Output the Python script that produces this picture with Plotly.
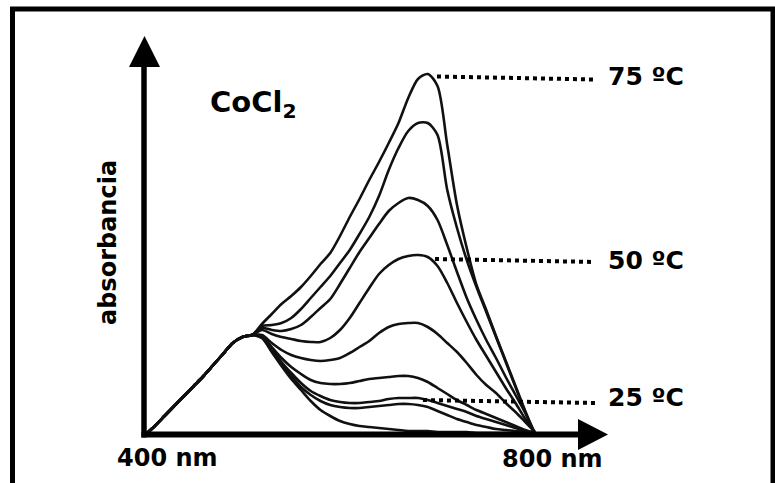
import plotly.graph_objects as go

W, H = 775, 483

# Wavelength grid of the spectra (nm)
wavelength_nm = [400, 410, 420, 430, 440, 450, 460, 470, 480, 490, 500, 510,
                 520, 530, 540, 550, 560, 570, 580, 590, 600, 610, 620, 630,
                 640, 650, 660, 670, 680, 690, 700, 710, 720, 730, 740, 750,
                 760, 770, 780, 790, 800]

# Rising flank up to the ~510 nm band, common to every temperature (400-510 nm)
abs_shared = [0.00, 0.09, 0.19, 0.29, 0.39, 0.49, 0.59, 0.70, 0.81, 0.92, 0.98, 1.00]

# Remaining part of each spectrum (520-800 nm), hottest first
abs_75 = [1.11, 1.21, 1.31, 1.39, 1.48, 1.59, 1.71, 1.82, 1.99, 2.18, 2.36, 2.55, 2.73, 2.92, 3.12,
          3.37, 3.56, 3.61, 3.49, 2.90, 2.30, 1.87, 1.50, 1.25, 0.99, 0.74, 0.49, 0.24, 0.00]
abs_2 = [1.09, 1.10, 1.12, 1.17, 1.26, 1.37, 1.48, 1.59, 1.72, 1.85, 2.01, 2.18, 2.39, 2.65, 2.87,
         3.04, 3.12, 3.12, 3.00, 2.45, 2.07, 1.75, 1.48, 1.23, 0.98, 0.73, 0.48, 0.23, 0.00]
abs_3 = [1.07, 1.05, 1.04, 1.06, 1.10, 1.18, 1.27, 1.36, 1.51, 1.67, 1.83, 1.97, 2.11, 2.24, 2.32,
         2.37, 2.35, 2.29, 2.15, 1.90, 1.63, 1.37, 1.15, 0.95, 0.77, 0.58, 0.40, 0.22, 0.02]
abs_50 = [1.05, 1.01, 0.98, 0.96, 0.94, 0.93, 0.93, 0.97, 1.05, 1.17, 1.32, 1.47, 1.61, 1.70, 1.76,
          1.79, 1.80, 1.78, 1.69, 1.52, 1.32, 1.13, 0.95, 0.79, 0.63, 0.47, 0.32, 0.16, 0.02]
abs_5 = [1.00, 0.92, 0.85, 0.80, 0.77, 0.75, 0.74, 0.75, 0.77, 0.82, 0.88, 0.94, 1.02, 1.08, 1.11,
         1.12, 1.12, 1.08, 1.01, 0.92, 0.83, 0.72, 0.60, 0.50, 0.42, 0.32, 0.23, 0.13, 0.03]
abs_6 = [0.99, 0.88, 0.77, 0.68, 0.61, 0.55, 0.52, 0.51, 0.51, 0.52, 0.54, 0.56, 0.57, 0.58, 0.59,
         0.59, 0.57, 0.53, 0.47, 0.41, 0.35, 0.30, 0.25, 0.21, 0.17, 0.13, 0.09, 0.05, 0.02]
abs_25 = [0.98, 0.86, 0.73, 0.62, 0.52, 0.44, 0.39, 0.35, 0.33, 0.32, 0.32, 0.33, 0.34, 0.36, 0.37,
          0.37, 0.37, 0.35, 0.32, 0.29, 0.26, 0.23, 0.19, 0.16, 0.13, 0.10, 0.07, 0.04, 0.02]
abs_8 = [0.97, 0.84, 0.71, 0.59, 0.48, 0.40, 0.34, 0.30, 0.28, 0.27, 0.27, 0.28, 0.29, 0.30, 0.31,
         0.31, 0.30, 0.28, 0.24, 0.20, 0.16, 0.13, 0.10, 0.08, 0.06, 0.05, 0.04, 0.03, 0.02]
abs_9 = [0.97, 0.83, 0.69, 0.56, 0.45, 0.34, 0.25, 0.19, 0.14, 0.11, 0.09, 0.08, 0.07, 0.06, 0.05,
         0.04, 0.04, 0.04, 0.03, 0.03, 0.03, 0.03, 0.02, 0.02, 0.02, 0.02, 0.02, 0.02, 0.02]

spectra = [abs_75, abs_2, abs_3, abs_50, abs_5, abs_6, abs_25, abs_8, abs_9]

temp_labels = ["75 ºC", "50 ºC", "25 ºC"]
x_labels = ["400 nm", "800 nm"]
y_title = "absorbancia"
compound = "CoCl<sub>2</sub>"

FONT = "DejaVu Sans"


def fx(px):
    """pixel column -> paper x"""
    return px / W


def fy(py):
    """pixel row -> paper y"""
    return 1 - py / H


fig = go.Figure()
for tail in spectra:
    fig.add_trace(go.Scatter(
        x=wavelength_nm, y=abs_shared + tail, mode="lines",
        line=dict(color="#111111", width=2.6, shape="spline", smoothing=0.8),
        hoverinfo="skip", showlegend=False,
    ))

shapes = []
# outer frame (open at the bottom)
for x0, y0, x1, y1 in [(12.5, 9, 12.5, 483), (10, 9, 775, 9), (773, 9, 773, 483)]:
    shapes.append(dict(type="line", xref="paper", yref="paper",
                       x0=fx(x0), y0=fy(y0), x1=fx(x1), y1=fy(y1),
                       line=dict(color="black", width=5)))
# axis arrows
shapes.append(dict(type="line", xref="paper", yref="paper",
                   x0=fx(144), y0=fy(437.5), x1=fx(144), y1=fy(60),
                   line=dict(color="black", width=5.5)))
shapes.append(dict(type="line", xref="paper", yref="paper",
                   x0=fx(141.5), y0=fy(434.5), x1=fx(582), y1=fy(434.5),
                   line=dict(color="black", width=6)))
shapes.append(dict(type="path", xref="paper", yref="paper",
                   path=f"M {fx(129)},{fy(67)} L {fx(144.5)},{fy(36)} L {fx(160)},{fy(67)} Z",
                   fillcolor="black", line=dict(width=0)))
shapes.append(dict(type="path", xref="paper", yref="paper",
                   path=f"M {fx(578)},{fy(419)} L {fx(608)},{fy(434.5)} L {fx(578)},{fy(450)} Z",
                   fillcolor="black", line=dict(width=0)))
# dotted leaders to the temperature labels
for (x0, y0, x1, y1) in [(437, 76.5, 595, 79.5), (435, 259, 595, 262), (423, 400, 595, 403)]:
    shapes.append(dict(type="line", xref="paper", yref="paper",
                       x0=fx(x0), y0=fy(y0), x1=fx(x1), y1=fy(y1),
                       line=dict(color="black", width=4, dash="4px,4px")))

annotations = []
for text, py in zip(temp_labels, [76, 260, 397]):
    annotations.append(dict(text=text, x=fx(606), y=fy(py), xref="paper", yref="paper",
                            xanchor="left", yanchor="middle", showarrow=False,
                            font=dict(family=FONT, size=25, color="black", weight="bold")))
for text, px, py in zip(x_labels, [167, 552], [458, 459]):
    annotations.append(dict(text=text, x=fx(px), y=fy(py), xref="paper", yref="paper",
                            xanchor="center", yanchor="middle", showarrow=False,
                            font=dict(family=FONT, size=24, color="black", weight="bold")))
annotations.append(dict(text=y_title, x=fx(108), y=fy(242), xref="paper", yref="paper",
                        xanchor="center", yanchor="middle", textangle=-90, showarrow=False,
                        font=dict(family=FONT, size=24, color="black", weight="bold")))
annotations.append(dict(text=compound, x=fx(208), y=fy(104), xref="paper", yref="paper",
                        xanchor="left", yanchor="middle", showarrow=False,
                        font=dict(family=FONT, size=29, color="black", weight="bold")))

fig.update_layout(
    width=W, height=H, autosize=False,
    margin=dict(l=0, r=0, t=0, b=0, pad=0),
    paper_bgcolor="white", plot_bgcolor="white",
    xaxis=dict(visible=False, range=[251.282, 1046.154], domain=[0, 1], fixedrange=True),
    yaxis=dict(visible=False, range=[-0.48, 4.35], domain=[0, 1], fixedrange=True),
    shapes=shapes, annotations=annotations,
)

fig.write_html("out.html")
